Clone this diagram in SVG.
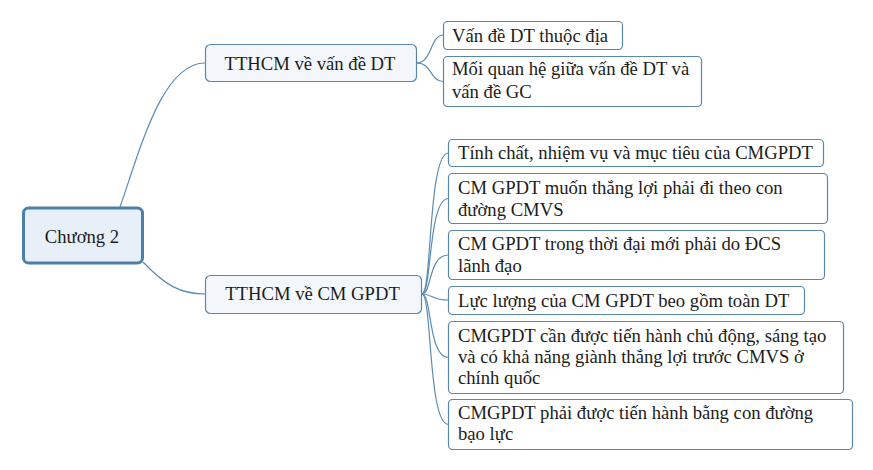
<svg xmlns="http://www.w3.org/2000/svg" width="873" height="470" viewBox="0 0 873 470">
<style>
text{font-family:"Liberation Serif","Times New Roman",serif;font-size:18.67px;fill:#1c1c1c}
.c{text-anchor:middle}
.leaf{fill:#ffffff;stroke:#5a88ad;stroke-width:1.2}
.sub{fill:#f3f7fb;stroke:#5a88ad;stroke-width:1.2}
.root{fill:#e7f0f9;stroke:#4b7fa9;stroke-width:3}
#connectors path{fill:none;stroke:#5b8cb3;stroke-width:1.2}
</style>
<rect width="873" height="470" fill="#ffffff"/>
<g id="connectors">
<path d="M120,207 C140,150 162,63 205,63"/>
<path d="M143,262 C165,285 180,294 205,294"/>
<path d="M417,63 C432,63 430,35 443.5,35"/>
<path d="M417,63 C432,63 430,81.5 443.5,81.5"/>
<path d="M422,294 C432,294 428,153 448.5,153"/>
<path d="M422,294 C432,294 428,198.5 448.5,198.5"/>
<path d="M422,294 C432,294 428,255 448.5,255"/>
<path d="M422,294 C432,294 432,300 448.5,300"/>
<path d="M422,294 C432,294 428,357.5 448.5,357.5"/>
<path d="M422,294 C432,294 428,424.5 448.5,424.5"/>
</g>
<g id="root">
<rect class="root" x="23.5" y="208" width="119" height="55" rx="5"/>
<text class="c" x="82" y="242.5">Chương 2</text>
</g>
<g id="sub1">
<rect class="sub" x="205.5" y="44.5" width="211" height="37" rx="5"/>
<text class="c" x="310" y="70">TTHCM về vấn đề DT</text>
</g>
<g id="sub2">
<rect class="sub" x="205.5" y="275.5" width="216" height="38" rx="5"/>
<text class="c" x="312.5" y="300">TTHCM về CM GPDT</text>
</g>
<g id="n1">
<rect class="leaf" x="443.5" y="21.5" width="179" height="28" rx="4"/>
<text x="452" y="41.5">Vấn đề DT thuộc địa</text>
</g>
<g id="n2">
<rect class="leaf" x="443.5" y="56.5" width="258" height="50" rx="4"/>
<text x="452" y="75">Mối quan hệ giữa vấn đề DT và</text>
<text x="452" y="98">vấn đề GC</text>
</g>
<g id="n3">
<rect class="leaf" x="448.5" y="139.5" width="375" height="27" rx="4"/>
<text x="458" y="158.5">Tính chất, nhiệm vụ và mục tiêu của CMGPDT</text>
</g>
<g id="n4">
<rect class="leaf" x="448.5" y="173.5" width="379" height="50" rx="4"/>
<text x="458" y="193.5">CM GPDT muốn thắng lợi phải đi theo con</text>
<text x="458" y="216">đường CMVS</text>
</g>
<g id="n5">
<rect class="leaf" x="448.5" y="230.5" width="376" height="49" rx="4"/>
<text x="458" y="250">CM GPDT trong thời đại mới phải do ĐCS</text>
<text x="458" y="272">lãnh đạo</text>
</g>
<g id="n6">
<rect class="leaf" x="448.5" y="286.5" width="356" height="28" rx="4"/>
<text x="458" y="306.5">Lực lượng của CM GPDT beo gồm toàn DT</text>
</g>
<g id="n7">
<rect class="leaf" x="448.5" y="321.5" width="395" height="72" rx="4"/>
<text x="458" y="341.5">CMGPDT cần được tiến hành chủ động, sáng tạo</text>
<text x="458" y="363">và có khả năng giành thắng lợi trước CMVS ở</text>
<text x="458" y="384">chính quốc</text>
</g>
<g id="n8">
<rect class="leaf" x="448.5" y="399.5" width="404" height="50" rx="4"/>
<text x="458" y="418.5">CMGPDT phải được tiến hành bằng con đường</text>
<text x="458" y="440">bạo lực</text>
</g>
</svg>
